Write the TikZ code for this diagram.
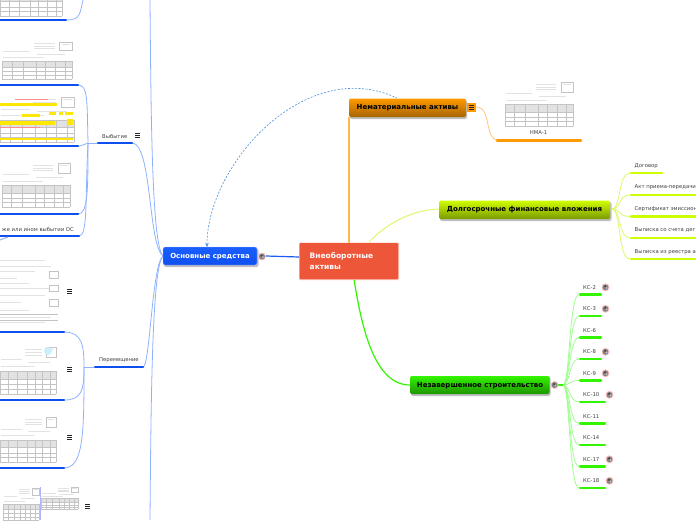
\documentclass[tikz,border=0pt]{standalone}
\usepackage{fontspec}
\setmainfont{DejaVu Sans}
\usetikzlibrary{arrows.meta,calc}
\definecolor{bluemain}{HTML}{1A5CF5}
\definecolor{bluebr}{HTML}{0F4FF0}
\definecolor{bluelink}{HTML}{8FB2FF}
\definecolor{orangebr}{HTML}{FF9A00}
\definecolor{orangelink}{HTML}{FFC77A}
\definecolor{limebr}{HTML}{CCFF00}
\definecolor{limelink}{HTML}{DDF96A}
\definecolor{greenbr}{HTML}{33F500}
\definecolor{greenlink}{HTML}{A0FF90}
\definecolor{redc}{HTML}{EE563A}
\definecolor{formc}{HTML}{C4C4C4}
\definecolor{formt}{HTML}{E2E2E2}
\definecolor{dashc}{HTML}{4A90E0}
\tikzset{
 topic/.style={rounded corners=2pt,minimum height=19pt,inner sep=0pt,font=\bfseries\fontsize{7}{8}\selectfont},
 shadowb/.style={fill=black!25,rounded corners=2pt},
 leaf/.style={anchor=west,inner sep=0pt,text=black!75,font=\fontsize{5.3}{6}\selectfont},
 bar/.style={line width=2.4pt,line cap=round},
 tie/.style={line width=.8pt},
 fline/.style={line width=.2pt,draw=formc},
 ftext/.style={line width=.7pt,draw=formt},
}
% thumbnail of a paper form: top-left x,y then w,h
\newcommand{\formthumb}[4]{%
 \begin{scope}[shift={(#1,#2)}]
  \foreach \q in {.07,.13,.19}{\draw[ftext] (.45*#3,\q*#4) -- (.75*#3,\q*#4);}
  \draw[ftext] (.85*#3,.08*#4) -- (.97*#3,.08*#4);
  \draw[ftext] (.02*#3,.28*#4) -- (.4*#3,.28*#4);
  \draw[ftext] (.5*#3,.34*#4) -- (.9*#3,.34*#4);
  \draw[ftext] (.02*#3,.42*#4) -- (.6*#3,.42*#4);
  \draw[fline] (.82*#3,.02*#4) rectangle (#3,.24*#4);
  \fill[formt] (0,.52*#4) rectangle (#3,.68*#4);
  \foreach \q in {.52,.68,.8,.9,1}{\draw[fline] (0,\q*#4) -- (#3,\q*#4);}
  \foreach \q in {0,.14,.3,.48,.62,.76,.9,1}{\draw[fline] (\q*#3,.52*#4) -- (\q*#3,#4);}
 \end{scope}}
\newcommand{\formrows}[4]{%
 \begin{scope}[shift={(#1,#2)}]
  \foreach \q in {.04,.12,.2,.3,.38,.46,.56,.66,.78,.88,.96}{
   \draw[ftext] (0,\q*#4) -- ({(.6+.3*sin(\q*900))*#3},\q*#4);}
  \foreach \q in {.2,.4,.62}{\draw[fline] (.84*#3,\q*#4) rectangle (#3,\q*#4+.1*#4);}
  \foreach \q in {.84,.93}{\draw[fline] (0,\q*#4) -- (#3,\q*#4);}
 \end{scope}}
\newcommand{\menuicon}[2]{%
 \foreach \q in {-2,0,2}{\draw[line width=.8pt,black!85] (#1-2.5,#2+\q) -- (#1+2.5,#2+\q);}}
\newcommand{\noteicon}[2]{\node[circle,fill=black!50,draw=red!25!white,line width=.8pt,minimum size=7pt,inner sep=0pt] at (#1,#2) {};
 \fill[white!75!black] (#1+1,#2+.6) circle (1.1pt);\fill[black!75] (#1-.4,#2-1) circle (1.1pt);}
\begin{document}
\begin{tikzpicture}[x=1pt,y=-1pt]
\useasboundingbox (0,0) rectangle (696,520);
\clip (0,0) rectangle (696,520);
\fill[white] (0,0) rectangle (696,520);

% ---- long links from main blue node
\draw[tie,bluelink] (163,256) .. controls (152,245) and (151,120) .. (150,0);
\draw[tie,bluelink] (163,256) .. controls (152,267) and (151,400) .. (150,520);
\draw[tie,bluelink] (163,256) .. controls (148,245) and (152,143) .. (132,143);
\draw[tie,bluelink] (163,256) .. controls (152,264) and (150,367) .. (143,367);
\draw[tie,bluelink] (83,0) .. controls (80,12) and (81,20) .. (67,20);

% ---- Выбытие group
\draw[tie,bluelink] (97,143) -- (88,143);
\draw[tie,bluelink] (88,143) .. controls (87,100) and (88,85) .. (78,85);
\draw[tie,bluelink] (88,143) .. controls (85,144) and (82,146) .. (78,146);
\draw[tie,bluelink] (88,143) .. controls (88,190) and (88,214) .. (78,214);
\draw[tie,bluelink] (88,143) .. controls (85,200) and (88,236) .. (79,236);
% ---- Перемещение group
\draw[tie,bluelink] (94,367) -- (84,367);
\draw[tie,bluelink] (84,367) .. controls (84,345) and (82,332) .. (64,332);
\draw[tie,bluelink] (84,367) .. controls (84,390) and (82,400) .. (64,400);
\draw[tie,bluelink] (84,367) .. controls (84,430) and (84,468) .. (64,468);

% ---- bars left
\draw[bar,bluebr] (-5,20) -- (66,20);
\draw[bar,bluebr] (-5,85) -- (78,85);
\draw[bar,bluebr] (-5,146) -- (78,146);
\draw[bar,bluebr] (-5,214) -- (78,214);
\draw[bar,bluebr] (-5,236) -- (79,236);
\draw[bar,bluebr] (-5,332) -- (64,332);
\draw[bar,bluebr] (-5,400) -- (64,400);
\draw[bar,bluebr] (-5,468) -- (64,468);
\draw[bar,bluebr] (98,143) -- (132,143);
\draw[bar,bluebr] (95,367) -- (143,367);
\draw[line width=1pt,bluelink] (0,240) -- (8,237);

% ---- thumbnails
\formthumb{0}{-30}{62}{46}
\formthumb{2}{41}{70}{38}
\formthumb{0}{96}{74}{46}
\fill[yellow!90!orange] (0,102.5) rectangle (57,105.5);
\fill[yellow!90!orange] (0,121) rectangle (55,125);
\fill[yellow!90!orange] (22,114) rectangle (40,117);
\fill[yellow!90!orange] (49,112) rectangle (56,115);
\fill[yellow!90!orange] (59,112) rectangle (63,115);
\fill[yellow!90!orange] (65,112) rectangle (73,115);
\fill[yellow!90!orange] (67,119) rectangle (73,125);
\fill[yellow!90!orange] (0,137.5) rectangle (73,140);
\draw[line width=.8pt,red!45!white] (15,99) -- (48,99);
\draw[line width=.6pt,red!45!white] (0,127.5) -- (40,127.5);
\formthumb{2}{162}{68}{45}
\formrows{0}{258}{58}{67}
\formthumb{0}{346}{56}{48}
\fill[cyan!20] (48,351) circle (4pt);
\formthumb{0}{416}{56}{46}
\formthumb{3}{487}{36}{33}
\formthumb{41}{487}{37}{22}
\draw[line width=.3pt,blue!30] (40,487) -- (40,520);
\formthumb{505}{81}{68}{45}

% ---- menu icons
\menuicon{137.5}{135.5}
\menuicon{69.5}{291.5}
\menuicon{69.5}{369.5}
\menuicon{69.5}{437.5}
\menuicon{87.5}{506.5}

% ---- leaf texts left
\node[leaf] (tvyb) at (102,136) {Выбытие};
\node[leaf] (tper) at (99,360) {Перемещение};
\node[leaf,anchor=east] (tother) at (74,229) {же или ином выбытии ОС};

% ---- connectors centre
\draw[line width=1.4pt,orangebr!70!white] (349,243) -- (349,117);
\draw[line width=1pt,limelink] (369,242) .. controls (385,225) and (410,210) .. (439,209);
\draw[line width=1.2pt,greenbr] (354,279) .. controls (362,330) and (375,385) .. (410,385);
\draw[line width=1.2pt,bluemain] (266,256) -- (299,257);

% ---- NMA
\draw[tie,orangelink] (476,107) .. controls (492,107) and (484,140) .. (498,140);
\draw[bar,orangebr] (497,140.5) -- (581,140.5);
\node[leaf,anchor=center] (tnma) at (538.5,133) {НМА-1};

% ---- lime children
\foreach \yy/\xe in {173/662,195/700,216.5/700,238/700,259/700}{
 \draw[tie,limelink] (612,209) .. controls (621,209) and (618,\yy) .. (630,\yy);
 \draw[bar,limebr] (631,\yy) -- (\xe,\yy);
}
\node[leaf] at (634.5,166) {Договор};
\node[leaf] at (634.5,187) {Акт приема-передачи};
\node[leaf] at (634.5,209) {Сертификат эмиссион};
\node[leaf] at (634.5,230) {Выписка со счета дег};
\node[leaf] at (634.5,252) {Выписка из реестра а};

% ---- green children
\foreach \yy/\xe/\lab/\ic in {
 294.5/601/КС-2/1,316/601/КС-3/1,337.5/601/КС-6/0,359/601/КС-8/1,380.5/601/КС-9/1,
 402/605/КС-10/1,423.5/605/КС-11/0,445/605/КС-14/0,466.5/605/КС-17/1,488/605/КС-18/1}{
 \draw[tie,greenlink] (563,385) .. controls (570,385) and (569,\yy) .. (579,\yy);
 \draw[bar,greenbr] (580,\yy) -- (\xe,\yy);
 \node[leaf] at (583,\yy-7.2) {\lab};
 \ifnum\ic=1 \noteicon{\xe+4.5}{\yy-7.2}\fi
}
\draw[line width=1.4pt,greenbr] (555,385) -- (563,385);

% ---- dashed relationship
\draw[line width=.6pt,dash pattern=on 2pt off 1.5pt,draw=dashc,-{Stealth[length=4pt,width=3.5pt]},
 {Stealth[length=4pt,width=3.5pt]}-] (207,247) .. controls (207,165) and (305,55) .. (397,98);

% ---- main nodes
\fill[shadowb] (164,249) rectangle (258.5,267);
\shade[top color=blue!70!cyan!90,bottom color=bluebr,rounded corners=2pt,draw=blue!30!white,line width=.3pt]
 (163,247) rectangle (257,265);
\node[topic,text=white] (os) at (210,256.5) {Основные средства};
\noteicon{262}{256.5}

\fill[redc!40!white,rounded corners=1pt] (299,242.5) rectangle (399,280);
\fill[redc,rounded corners=1pt] (299.7,243) rectangle (398,279);
\node[anchor=west,text=white,font=\bfseries\fontsize{7.5}{11}\selectfont,align=left,inner sep=0pt] (root) at (309.5,261.5) {Внеоборотные\\активы};

\fill[shadowb] (350,100) rectangle (467,119);
\shade[top color=orangebr,bottom color=orangebr!65!black,rounded corners=2pt] (349,98.5) rectangle (466,117);
\node[topic,text=black] (nma) at (407.5,107.5) {Нематериальные активы};
\fill[orangebr] (467,103) rectangle (476,112);
\menuicon{471.5}{107.5}

\fill[shadowb] (440,202) rectangle (611.5,221);
\shade[top color=limebr!90!yellow,bottom color=limebr!60!black,rounded corners=2pt] (439,200.5) rectangle (610,219);
\node[topic,text=black] (lt) at (524.5,209.5) {Долгосрочные финансовые вложения};

\fill[shadowb] (411,377) rectangle (550.5,396);
\shade[top color=greenbr,bottom color=greenbr!60!black,rounded corners=2pt] (410,376) rectangle (549.5,394);
\node[topic,text=black] (ns) at (480,385.5) {Незавершенное строительство};
\noteicon{554.5}{385}
\end{tikzpicture}
\end{document}
